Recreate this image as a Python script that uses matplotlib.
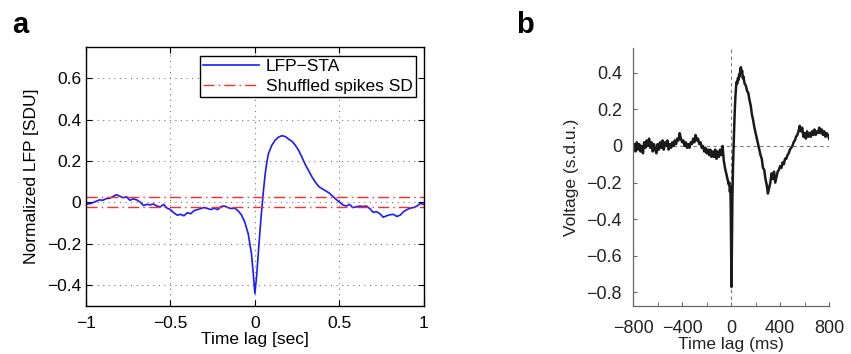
import matplotlib
matplotlib.use("Agg")
import matplotlib.pyplot as plt
import numpy as np

plt.rcParams['font.family'] = ['Liberation Sans', 'DejaVu Sans']

# panel a: LFP spike-triggered average (sec, SDU)
lag_a = [-1.00, -0.97, -0.94, -0.92, -0.90, -0.88, -0.86, -0.84, -0.82, -0.80,
         -0.78, -0.76, -0.74, -0.72, -0.70, -0.68, -0.66, -0.64, -0.62, -0.60,
         -0.58, -0.56, -0.54, -0.52, -0.50, -0.48, -0.46, -0.44, -0.42, -0.40,
         -0.38, -0.36, -0.34, -0.32, -0.30, -0.28, -0.26, -0.24, -0.22, -0.20,
         -0.18, -0.16, -0.14, -0.12, -0.10, -0.08, -0.06, -0.04, -0.02, -0.01,
         0.00, 0.01, 0.02, 0.03, 0.04, 0.05, 0.06, 0.07, 0.08, 0.10,
         0.12, 0.14, 0.16, 0.18, 0.20, 0.22, 0.24, 0.26, 0.28, 0.30,
         0.32, 0.34, 0.36, 0.38, 0.40, 0.42, 0.44, 0.46, 0.48, 0.50,
         0.52, 0.54, 0.56, 0.58, 0.60, 0.62, 0.64, 0.66, 0.68, 0.70,
         0.72, 0.74, 0.76, 0.78, 0.80, 0.82, 0.84, 0.86, 0.88, 0.90,
         0.92, 0.94, 0.96, 0.98, 1.00]
sta_a = [-0.010, -0.005, 0.005, 0.012, 0.010, 0.018, 0.020, 0.028, 0.037, 0.030,
         0.022, 0.027, 0.010, 0.017, 0.012, 0.002, -0.015, -0.010, -0.012, -0.008,
         -0.018, -0.022, -0.010, -0.028, -0.035, -0.050, -0.062, -0.058, -0.065, -0.050,
         -0.055, -0.040, -0.035, -0.030, -0.025, -0.030, -0.035, -0.028, -0.035, -0.020,
         -0.018, -0.025, -0.030, -0.028, -0.040, -0.060, -0.095, -0.150, -0.250, -0.340,
         -0.440, -0.360, -0.250, -0.140, -0.040, 0.050, 0.130, 0.190, 0.235, 0.275,
         0.300, 0.315, 0.322, 0.318, 0.305, 0.295, 0.275, 0.250, 0.215, 0.180,
         0.150, 0.120, 0.095, 0.075, 0.065, 0.055, 0.045, 0.030, 0.015, 0.002,
         -0.012, -0.018, -0.010, -0.025, -0.022, -0.018, -0.020, -0.018, -0.030, -0.048,
         -0.045, -0.055, -0.072, -0.065, -0.060, -0.058, -0.068, -0.062, -0.045, -0.035,
         -0.028, -0.025, -0.018, -0.005, -0.010]
sd_upper = 0.026
sd_lower = -0.022

# panel b: voltage (ms, s.d.u.)
lag_b = [-800, -790, -780, -770, -760, -750, -740, -730, -720, -710,
         -700, -690, -680, -670, -660, -650, -640, -630, -620, -610,
         -600, -590, -580, -570, -560, -550, -540, -530, -520, -510,
         -500, -490, -480, -470, -460, -450, -440, -430, -420, -410,
         -400, -390, -380, -370, -360, -350, -340, -330, -320, -310,
         -300, -290, -280, -270, -260, -250, -240, -230, -220, -210,
         -200, -190, -180, -170, -160, -150, -140, -130, -120, -110,
         -100, -90, -80, -70, -60, -50, -40, -30, -20, -15,
         -10, -6, -3, 0, 3, 6, 10, 15, 20, 25,
         30, 35, 40, 45, 50, 55, 60, 65, 70, 75,
         80, 85, 90, 95, 100, 110, 120, 130, 140, 150,
         160, 170, 180, 190, 200, 210, 220, 230, 240, 250,
         260, 270, 280, 290, 300, 310, 320, 330, 340, 350,
         360, 370, 380, 390, 400, 410, 420, 430, 440, 450,
         460, 470, 480, 490, 500, 510, 520, 530, 540, 550,
         560, 570, 580, 590, 600, 610, 620, 630, 640, 650,
         660, 670, 680, 690, 700, 710, 720, 730, 740, 750,
         760, 770, 780, 790, 800]
volt_b = [-0.01, 0.01, -0.03, 0.02, -0.02, 0.01, -0.03, 0.00, -0.04, 0.02,
          -0.01, 0.03, 0.00, 0.04, -0.01, 0.02, -0.03, 0.01, -0.02, -0.04,
          0.01, -0.02, 0.02, -0.01, 0.03, -0.02, 0.02, 0.00, 0.03, -0.02,
          0.01, -0.01, 0.02, 0.00, 0.03, 0.01, 0.04, 0.03, 0.07, 0.04,
          0.02, 0.03, 0.00, 0.02, -0.01, 0.01, -0.01, 0.02, 0.01, 0.04,
          0.02, 0.06, 0.03, 0.04, 0.01, 0.02, -0.01, 0.00, -0.03, -0.01,
          -0.04, -0.02, -0.05, -0.02, -0.06, -0.03, -0.06, -0.02, -0.07, -0.03,
          -0.06, -0.02, -0.05, 0.00, -0.08, -0.12, -0.15, -0.18, -0.21, -0.20,
          -0.25, -0.22, -0.35, -0.55, -0.77, -0.55, -0.30, -0.12, 0.00, 0.10,
          0.20, 0.27, 0.32, 0.35, 0.34, 0.37, 0.36, 0.39, 0.38, 0.42,
          0.43, 0.40, 0.41, 0.37, 0.38, 0.34, 0.33, 0.30, 0.29, 0.25,
          0.22, 0.17, 0.14, 0.10, 0.07, 0.04, 0.01, -0.02, -0.05, -0.07,
          -0.12, -0.13, -0.18, -0.21, -0.26, -0.23, -0.20, -0.15, -0.18, -0.14,
          -0.20, -0.17, -0.14, -0.13, -0.11, -0.12, -0.09, -0.10, -0.07, -0.07,
          -0.05, -0.04, -0.02, -0.01, 0.00, 0.02, 0.03, 0.05, 0.06, 0.08,
          0.11, 0.08, 0.10, 0.05, 0.07, 0.04, 0.08, 0.05, 0.07, 0.05,
          0.08, 0.06, 0.09, 0.06, 0.08, 0.07, 0.10, 0.07, 0.09, 0.06,
          0.08, 0.05, 0.07, 0.06, 0.04]

fig = plt.figure(figsize=(8.51, 3.54), dpi=100)

# ---- panel a (matlab look) ----
ax1 = fig.add_axes([0.101, 0.136, 0.397, 0.731])
ax1.plot(lag_a, sta_a, color='#1a1aff', lw=1.2, label='LFP\u2212STA')
ax1.axhline(sd_upper, color='#ff2a2a', lw=1.0, ls='-.', dashes=(8, 3, 1, 3),
            label='Shuffled spikes SD')
ax1.axhline(sd_lower, color='#ff2a2a', lw=1.0, ls='-.', dashes=(8, 3, 1, 3))
ax1.set_xlim(-1, 1)
ax1.set_ylim(-0.5, 0.75)
ax1.set_xticks([-1, -0.5, 0, 0.5, 1])
ax1.set_xticklabels(['\u22121', '\u22120.5', '0', '0.5', '1'])
ax1.set_yticks([-0.4, -0.2, 0, 0.2, 0.4, 0.6])
ax1.set_yticklabels(['\u22120.4', '\u22120.2', '0', '0.2', '0.4', '0.6'])
ax1.grid(True, ls=(0, (1, 4)), color='#777777', lw=0.8)
ax1.tick_params(direction='in', top=True, right=True, labelsize=12.5, length=4)
ax1.tick_params(axis='x', pad=7)
ax1.set_xlabel('Time lag [sec]', fontsize=12.5, labelpad=1)
ax1.set_ylabel('Normalized LFP [SDU]', fontsize=12.5, labelpad=6)
for s in ax1.spines.values():
    s.set_linewidth(1.0)
leg = ax1.legend(loc='upper right', bbox_to_anchor=(0.977, 0.967), borderaxespad=0,
                 fancybox=False, edgecolor='black', framealpha=1, fontsize=12.5,
                 handlelength=3.2, labelspacing=0.25, borderpad=0.2, handletextpad=0.4)
leg.get_frame().set_linewidth(1.0)

# ---- panel b ----
ax2 = fig.add_axes([0.744, 0.136, 0.2303, 0.7285])
ax2.axvline(0, color='#777777', lw=0.8, ls=(0, (3, 3)))
ax2.axhline(0, color='#777777', lw=0.8, ls=(0, (3, 3)))
ax2.plot(lag_b, volt_b, color='#1a1a1a', lw=1.8)
ax2.set_xlim(-800, 800)
ax2.set_ylim(-0.873, 0.535)
ax2.set_xticks([-800, -400, 0, 400, 800])
ax2.set_xticklabels(['\u2212800', '\u2212400', '0', '400', '800'])
ax2.set_xticks([-600, -200, 200, 600], minor=True)
ax2.set_yticks([-0.8, -0.6, -0.4, -0.2, 0, 0.2, 0.4])
ax2.set_yticklabels(['\u22120.8', '\u22120.6', '\u22120.4', '\u22120.2', '0', '0.2', '0.4'])
ax2.spines['top'].set_visible(False)
ax2.spines['right'].set_visible(False)
for s in ['left', 'bottom']:
    ax2.spines[s].set_color('#666666')
    ax2.spines[s].set_linewidth(0.9)
ax2.tick_params(which='both', direction='in', color='#666666', labelsize=13,
                labelcolor='#222222', length=3)
ax2.tick_params(axis='x', which='both', pad=10)
ax2.tick_params(axis='y', which='both', pad=8)
ax2.set_xlabel('Time lag (ms)', fontsize=12.5, color='#222222', labelpad=0)
ax2.set_ylabel('Voltage (s.d.u.)', fontsize=12.5, color='#222222', labelpad=5)

fig.text(0.014, 0.907, 'a', fontsize=21, fontweight='bold')
fig.text(0.607, 0.907, 'b', fontsize=21, fontweight='bold')

fig.savefig('out.png', dpi=100)
